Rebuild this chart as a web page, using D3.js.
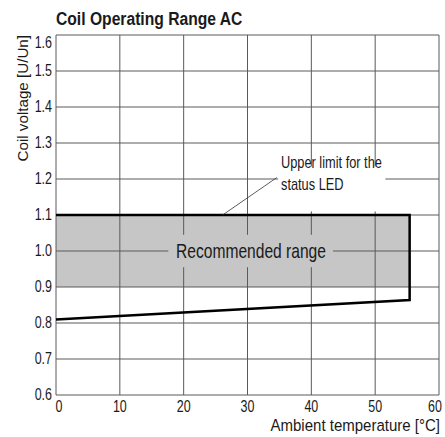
<!DOCTYPE html>
<html>
<head>
<meta charset="utf-8">
<script src="https://cdn.jsdelivr.net/npm/d3@7"></script>
<style>
  body { margin: 0; background: #fff; }
  svg text { font-family: "Liberation Sans", Arial, sans-serif; fill: #1a1a1a; }
</style>
</head>
<body>
<svg id="chart" width="445" height="437"></svg>
<script>
// values
const xTicks = [0, 10, 20, 30, 40, 50, 60];
const yTicks = [0.6, 0.7, 0.8, 0.9, 1.0, 1.1, 1.2, 1.3, 1.4, 1.5, 1.6];
const bandTemp = [0, 55.4];
const bandLow = [0.9, 0.9];
const bandHigh = [1.1, 1.1];
const limitTemp = [0, 55.4, 55.4, 0];
const limitVolt = [1.1, 1.1, 0.864, 0.81];

const svg = d3.select('#chart');
const plotL = 56, plotR = 439, plotT = 35, plotB = 395;

const x = d3.scaleLinear().domain([0, 60]).range([plotL, plotR]);
const y = d3.scaleLinear().domain([0.6, 1.6]).range([plotB, plotT]);

// condensed look: squeeze the text sideways
function label(px, py, txt, size, anchor, sx, rot) {
    return svg.append('text')
        .attr('transform', `translate(${px},${py})${rot ? ' rotate(' + rot + ')' : ''} scale(${sx},1)`)
        .attr('font-size', size)
        .attr('text-anchor', anchor || 'start')
        .text(txt);
}

// grey recommended band
svg.append('path')
    .datum(bandTemp.map((t, i) => [t, bandLow[i], bandHigh[i]]))
    .attr('fill', '#c6c6c6')
    .attr('d', d3.area().x(d => x(d[0])).y0(d => y(d[1])).y1(d => y(d[2])));

// grid
svg.append('g').selectAll('line').data(xTicks).enter().append('line')
    .attr('x1', d => x(d)).attr('x2', d => x(d))
    .attr('y1', plotT).attr('y2', plotB)
    .attr('stroke', '#5a5a5a').attr('stroke-width', 1);
svg.append('g').selectAll('line').data(yTicks).enter().append('line')
    .attr('x1', plotL).attr('x2', plotR)
    .attr('y1', d => y(d)).attr('y2', d => y(d))
    .attr('stroke', '#5a5a5a').attr('stroke-width', 1);

// labels covering the grid
svg.append('rect')
    .attr('x', x(17.6)).attr('y', y(1.045)).attr('width', x(43.4) - x(17.6)).attr('height', y(0.955) - y(1.045))
    .attr('fill', '#c6c6c6');
svg.append('rect')
    .attr('x', x(34.8)).attr('y', y(1.235)).attr('width', x(51.6) - x(34.8)).attr('height', y(1.11) - y(1.235))
    .attr('fill', '#fff');

// operating limit outline
svg.append('path')
    .datum(limitTemp.map((t, i) => [t, limitVolt[i]]))
    .attr('fill', 'none').attr('stroke', '#000').attr('stroke-width', 2.5)
    .attr('d', d3.line().x(d => x(d[0])).y(d => y(d[1])));

// leader line
svg.append('line')
    .attr('x1', x(26.1)).attr('y1', y(1.1))
    .attr('x2', x(34.6)).attr('y2', y(1.204))
    .attr('stroke', '#333').attr('stroke-width', 0.8);

label(281, 168, 'Upper limit for the', 16, 'start', 0.8);
label(281, 190, 'status LED', 16, 'start', 0.8);
label(251, 258, 'Recommended range', 20, 'middle', 0.78);

// tick labels
yTicks.forEach(d => {
    label(plotL - 4, y(d) + 5 + (d === 1.6 ? 8 : 0), d.toFixed(1), 16, 'end', 0.78);
});
xTicks.forEach(d => {
    label(x(d) + (d === 0 ? 3 : d === 60 ? -4 : 0), 412, String(d), 16, 'middle', 0.78);
});

// titles
label(56, 25, 'Coil Operating Range AC', 18, 'start', 0.87).attr('font-weight', 'bold');
label(440, 431, 'Ambient temperature [°C]', 16.5, 'end', 0.91);
label(28, 35, 'Coil voltage [U/Un]', 15.5, 'end', 0.98, -90);
</script>
</body>
</html>
